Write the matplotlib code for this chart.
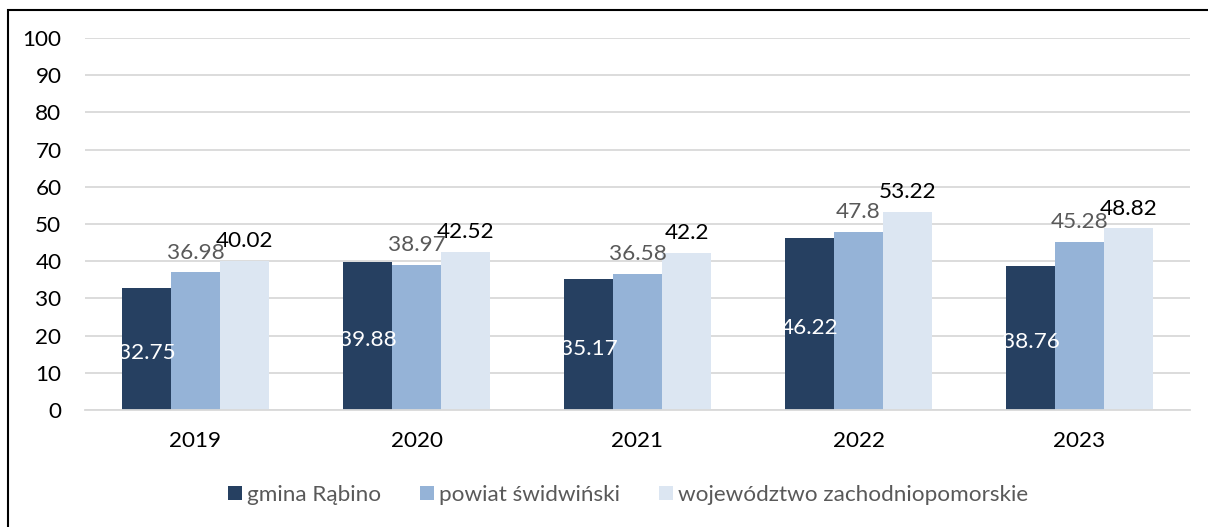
import numpy as np
import matplotlib.pyplot as plt
from matplotlib.patches import Rectangle

plt.rcParams['font.family'] = ['Lato', 'DejaVu Sans']

years = ["2019", "2020", "2021", "2022", "2023"]
series_names = ["gmina Rąbino", "powiat świdwiński", "województwo zachodniopomorskie"]
gmina = [32.75, 39.88, 35.17, 46.22, 38.76]
powiat = [36.98, 38.97, 36.58, 47.8, 45.28]
wojewodztwo = [40.02, 42.52, 42.2, 53.22, 48.82]
labels_gmina = ["32.75", "39.88", "35.17", "46.22", "38.76"]
labels_powiat = ["36.98", "38.97", "36.58", "47.8", "45.28"]
labels_woj = ["40.02", "42.52", "42.2", "53.22", "48.82"]

colors = ["#264061", "#95b3d7", "#dce6f2"]
fs = 16.2

fig = plt.figure(figsize=(12.08, 5.27), dpi=100)
ax = fig.add_axes([85 / 1208, 1 - 410 / 527, (1190 - 85) / 1208, (410 - 38) / 527])

x = np.arange(len(years))
w = 0.222
b1 = ax.bar(x - w, gmina, w, color=colors[0], label=series_names[0], zorder=2)
b2 = ax.bar(x, powiat, w, color=colors[1], label=series_names[1], zorder=2)
b3 = ax.bar(x + w, wojewodztwo, w, color=colors[2], label=series_names[2], zorder=2)

for t in ax.bar_label(b1, labels=labels_gmina, label_type='center', color='white', fontsize=fs):
    t.set_y(-3)
ax.bar_label(b2, labels=labels_powiat, padding=7, color='#595959', fontsize=fs)
ax.bar_label(b3, labels=labels_woj, padding=7, color='black', fontsize=fs)

ax.set_ylim(0, 100)
ax.set_xlim(-0.5, 4.5)
ax.set_yticks(range(0, 101, 10))
ax.set_xticks(x)
ax.set_xticklabels(years)
ax.tick_params(axis='both', length=0, labelsize=fs, colors='black')
ax.tick_params(axis='y', pad=17)
ax.tick_params(axis='x', pad=15)
ax.grid(axis='y', color='#d9d9d9', linewidth=1.3, zorder=0)
for s in ['top', 'right', 'left']:
    ax.spines[s].set_visible(False)
ax.spines['bottom'].set_color('#d9d9d9')
ax.spines['bottom'].set_linewidth(1.3)

leg = fig.legend(loc='center', bbox_to_anchor=(0.52, 1 - 495 / 527), ncol=3, frameon=False,
                 fontsize=fs, handlelength=0.62, handleheight=0.62, handletextpad=0.25,
                 columnspacing=1.7)
for t in leg.get_texts():
    t.set_color('#595959')

# outer frame (only left/top visible in the crop)
fig.patches.append(Rectangle((8 / 1208, -0.1), 1.2, 1 - 10 / 527 + 0.1, transform=fig.transFigure,
                             fill=False, edgecolor='black', linewidth=1.5))

fig.savefig("out.png", dpi=100)
